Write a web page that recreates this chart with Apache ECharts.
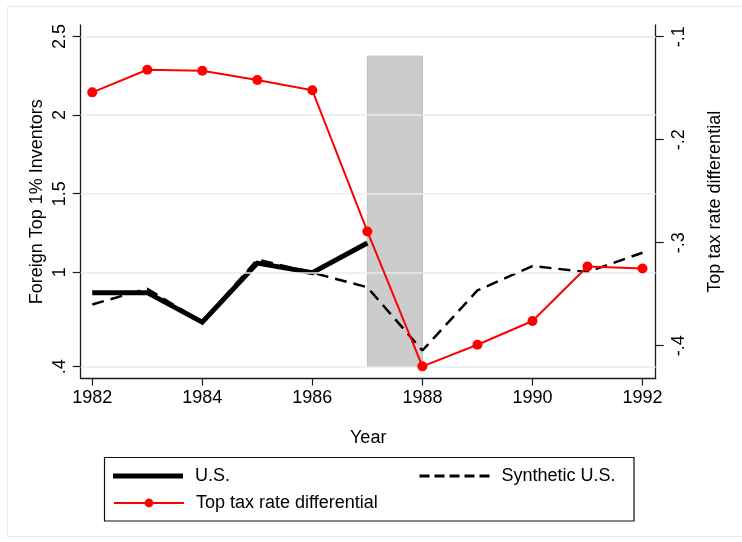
<!DOCTYPE html>
<html>
<head>
<meta charset="utf-8">
<script src="https://cdn.jsdelivr.net/npm/echarts@6/dist/echarts.min.js"></script>
<style>
html,body{margin:0;padding:0;background:#fff;}
#chart{width:742px;height:542px;}
</style>
</head>
<body>
<div id="chart"></div>
<script>
// ---- data ----
var years = [1982, 1983, 1984, 1985, 1986, 1987, 1988, 1989, 1990, 1991, 1992];
var usValues = [0.871, 0.871, 0.683, 1.059, 0.998, 1.187];
var syntheticValues = [0.796, 0.896, 0.683, 1.081, 0.998, 0.905, 0.503, 0.885, 1.040, 1.002, 1.125];
var taxDiffValues = [-0.154, -0.132, -0.133, -0.142, -0.152, -0.289, -0.420, -0.399, -0.376, -0.323, -0.325];
var xTickValues = [1982, 1984, 1986, 1988, 1990, 1992];
var leftTickValues = [0.4, 1, 1.5, 2, 2.5];
var leftTickLabels = ['.4', '1', '1.5', '2', '2.5'];
var rightTickValues = [-0.4, -0.3, -0.2, -0.1];
var rightTickLabels = ['-.4', '-.3', '-.2', '-.1'];
var shadeYears = [1987, 1988];
var shadeRange = [0.4, 2.375];

function pair(xs, ys) { return ys.map(function (v, i) { return [xs[i], v]; }); }
function lookup(vals, labels) {
  return function (v) {
    for (var i = 0; i < vals.length; i++) if (Math.abs(vals[i] - v) < 1e-6) return labels[i];
    return '';
  };
}

var FONT = '"Liberation Sans", Arial, Helvetica, sans-serif';
var AXIS_COLOR = '#1a1a1a';
var GRID_COLOR = '#e6eeee';
var DASH_ICON = 'path://M0,0h10v3h-10z M15,0h10v3h-10z M30,0h10v3h-10z M45,0h10v3h-10z M60,0h10v3h-10z';
var LEGEND_TEXT = {fontSize: 18, color: '#000', fontFamily: FONT, padding: [0, 0, 0, 7], lineHeight: 20};

var chart = echarts.init(document.getElementById('chart'), null, {renderer: 'canvas'});
var option = {
  backgroundColor: '#ffffff',
  animation: false,
  textStyle: {fontFamily: FONT},
  grid: {left: 80.7, right: 86.3, top: 25, bottom: 163.5, containLabel: false, outerBoundsMode: 'none'},
  xAxis: {
    type: 'value', min: 1981.79, max: 1992.24,
    name: 'Year', nameLocation: 'middle', nameGap: 51, nameMoveOverlap: false,
    nameTextStyle: {fontSize: 18, color: '#000', fontFamily: FONT},
    axisLine: {show: true, lineStyle: {color: AXIS_COLOR, width: 1.3}},
    axisTick: {show: true, length: 7, customValues: xTickValues, lineStyle: {color: AXIS_COLOR, width: 1.2}},
    axisLabel: {customValues: xTickValues, fontSize: 18, color: '#000', margin: 11, fontFamily: FONT,
      formatter: function (v) { return String(v); }},
    splitLine: {show: false}
  },
  yAxis: [{
    type: 'value', position: 'left', min: 0.325, max: 2.573,
    name: 'Foreign Top 1% Inventors', nameLocation: 'middle', nameGap: 35, nameRotate: 90, nameMoveOverlap: false,
    nameTextStyle: {fontSize: 18, color: '#000', fontFamily: FONT},
    axisLine: {show: true, onZero: false, lineStyle: {color: AXIS_COLOR, width: 1.3}},
    axisTick: {show: true, length: 8, customValues: leftTickValues, lineStyle: {color: AXIS_COLOR, width: 1.2}},
    axisLabel: {customValues: leftTickValues, rotate: 90, fontSize: 18, color: '#000', margin: 12, fontFamily: FONT,
      formatter: lookup(leftTickValues, leftTickLabels)},
    splitLine: {show: false}
  }, {
    type: 'value', position: 'right', min: -0.4318, max: -0.0886,
    name: 'Top tax rate differential', nameLocation: 'middle', nameGap: 50, nameRotate: 90,
    nameTextStyle: {fontSize: 18, color: '#000', fontFamily: FONT},
    axisLine: {show: true, onZero: false, lineStyle: {color: AXIS_COLOR, width: 1.3}},
    axisTick: {show: true, length: 8, customValues: rightTickValues, lineStyle: {color: AXIS_COLOR, width: 1.2}},
    axisLabel: {customValues: rightTickValues, rotate: 90, fontSize: 18, color: '#000', margin: 14, fontFamily: FONT,
      formatter: lookup(rightTickValues, rightTickLabels)},
    splitLine: {show: false}
  }],
  legend: [{
    data: [{name: 'U.S.', icon: 'rect'}], left: 113, top: 466, padding: 0,
    itemWidth: 70, itemHeight: 5, itemGap: 0,
    itemStyle: {color: '#000'}, textStyle: LEGEND_TEXT, selectedMode: false
  }, {
    data: [{name: 'Synthetic U.S.', icon: DASH_ICON}], left: 419.5, top: 466, padding: 0,
    itemWidth: 70, itemHeight: 3, itemGap: 0,
    itemStyle: {color: '#000'}, textStyle: LEGEND_TEXT, selectedMode: false
  }, {
    data: ['Top tax rate differential'], left: 113, top: 493, padding: 0,
    itemWidth: 70, itemHeight: 11, itemGap: 0,
    textStyle: LEGEND_TEXT, lineStyle: {width: 2, color: '#ff0000'}, selectedMode: false
  }],
  graphic: [{
    type: 'rect', silent: true, z: -10,
    shape: {x: 7.5, y: 6.5, width: 760, height: 530},
    style: {fill: null, stroke: '#e3ecec', lineWidth: 1}
  }, {
    type: 'rect', silent: true,
    shape: {x: 104.5, y: 457.5, width: 529.5, height: 63.5},
    style: {fill: null, stroke: '#111', lineWidth: 1.2}
  }],
  series: [{
    name: 'band', type: 'line', data: [], silent: true, z: 1,
    markLine: {
      silent: true, symbol: 'none', label: {show: false},
      lineStyle: {color: GRID_COLOR, width: 1.5, type: 'solid'},
      data: leftTickValues.map(function (v) { return {yAxis: v}; })
    },
    markArea: {
      silent: true,
      itemStyle: {color: '#cccccc', borderColor: '#bdbdbd', borderWidth: 1},
      data: [[{xAxis: shadeYears[0], yAxis: shadeRange[0]}, {xAxis: shadeYears[1], yAxis: shadeRange[1]}]]
    }
  }, {
    name: 'Synthetic U.S.', type: 'line', yAxisIndex: 0, z: 3,
    data: pair(years, syntheticValues), symbol: 'none', smooth: false,
    lineStyle: {color: '#000', width: 2.5, type: [12, 7]}, itemStyle: {color: '#000'}
  }, {
    name: 'U.S.', type: 'line', yAxisIndex: 0, z: 4,
    data: pair(years, usValues), symbol: 'none',
    lineStyle: {color: '#000', width: 5, join: 'miter'}, itemStyle: {color: '#000'}
  }, {
    name: 'Top tax rate differential', type: 'line', yAxisIndex: 1, z: 5,
    data: pair(years, taxDiffValues), symbol: 'circle', symbolSize: 10, showSymbol: true,
    lineStyle: {color: '#ff0000', width: 2}, itemStyle: {color: '#ff0000'}
  }]
};
chart.setOption(option);
</script>
</body>
</html>
